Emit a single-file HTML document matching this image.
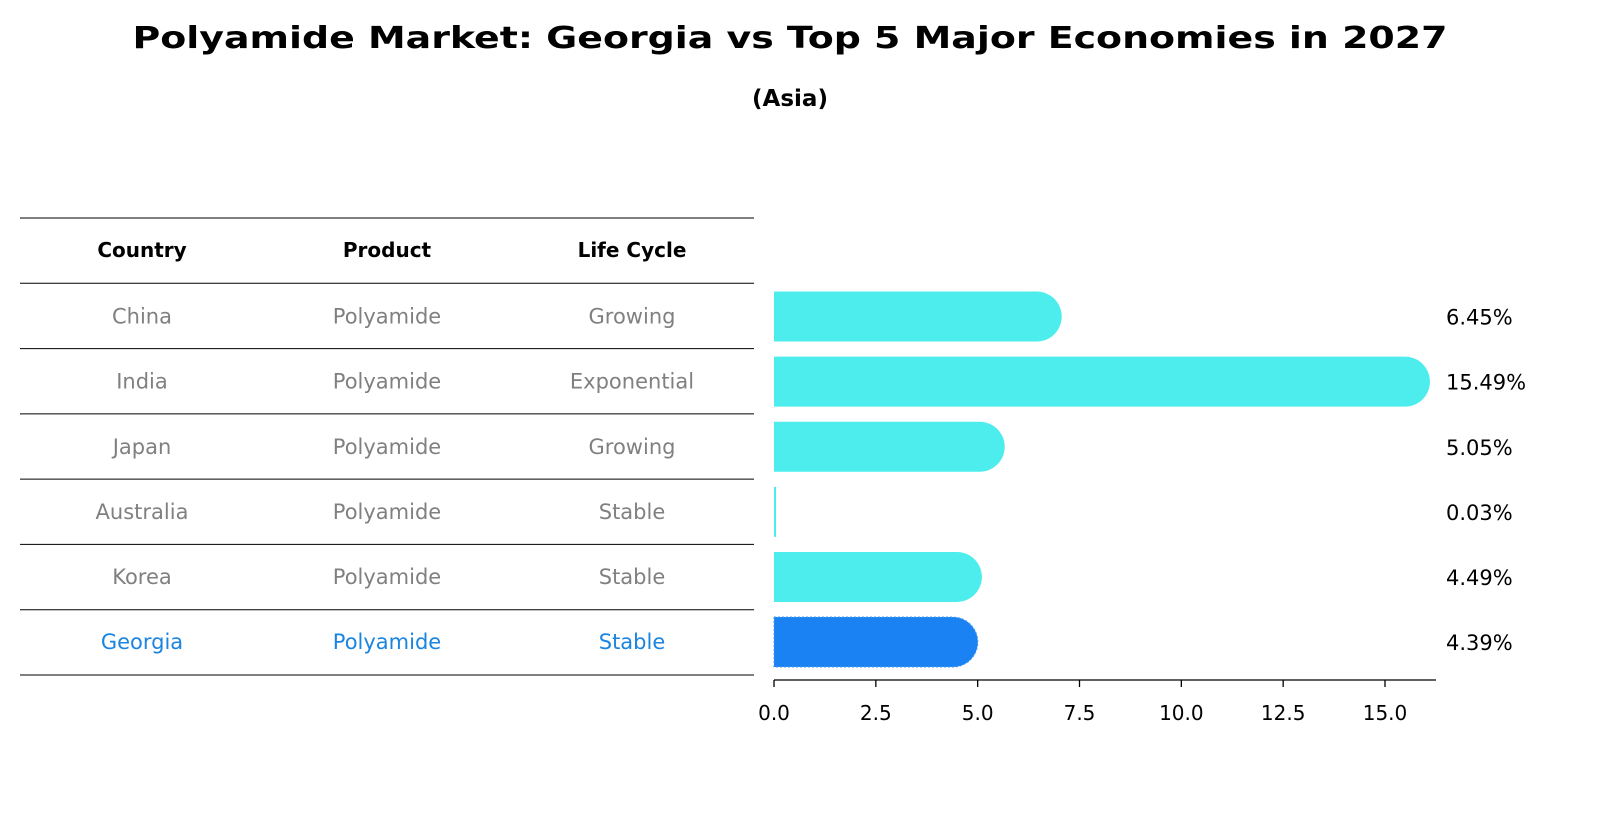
<!DOCTYPE html>
<html><head><meta charset="utf-8"><style>
body{margin:0;background:#fff;overflow:hidden;}
svg text{font-family:"DejaVu Sans","Liberation Sans",sans-serif;}
</style></head><body>
<svg width="1604" height="823" viewBox="0 0 1604 823" xmlns="http://www.w3.org/2000/svg" id="chart">
<text x="790" y="48" text-anchor="middle" font-size="30" font-weight="bold" fill="#000" textLength="1315" lengthAdjust="spacingAndGlyphs">Polyamide Market: Georgia vs Top 5 Major Economies in 2027</text>
<text x="790" y="106" text-anchor="middle" font-size="23" font-weight="bold" fill="#000">(Asia)</text>
<g id="table"></g>
<g id="bars"></g>
</svg>
<script>
const countries=["China","India","Japan","Australia","Korea","Georgia"];
const products=["Polyamide","Polyamide","Polyamide","Polyamide","Polyamide","Polyamide"];
const lifeCycles=["Growing","Exponential","Growing","Stable","Stable","Stable"];
const values=[6.45,15.49,5.05,0.03,4.49,4.39];
const tickLabels=["0.0","2.5","5.0","7.5","10.0","12.5","15.0"];
const tickValues=[0,2.5,5,7.5,10,12.5,15];
const NS="http://www.w3.org/2000/svg";
function mk(tag,attrs,parent,text){const e=document.createElementNS(NS,tag);for(const k in attrs)e.setAttribute(k,attrs[k]);if(text!==undefined)e.textContent=text;parent.appendChild(e);return e;}
const table=document.getElementById('table');
const bars=document.getElementById('bars');
const x0=774, pxPerUnit=(1385-774)/15;
const xs=v=>x0+v*pxPerUnit;
const rowTop=284,rowH=65.1;
const yc=i=>rowTop+rowH*(i+0.5);
const colX=[142,387,632];
for(let i=0;i<=countries.length+1;i++){
  const y=218+i*((675-218)/7);
  const l=mk('line',{x1:20,x2:754,y1:y,y2:y,stroke:'#000','stroke-width':1},table);
  
  
}
["Country","Product","Life Cycle"].forEach((h,j)=>{
  const t=mk('text',{x:colX[j],y:257,'text-anchor':'middle','font-size':20,'font-weight':'bold',fill:'#000'},table,h);
  
  
});
countries.forEach((c,i)=>{
  const col=c==="Georgia"?"#1a85e0":"#808080";
  [c,products[i],lifeCycles[i]].forEach((v,j)=>{
    const t=mk('text',{x:colX[j],y:yc(i)+7,'text-anchor':'middle','font-size':21,fill:col},table,v);
    
    
  });
});
const bh=50,r=25;
values.forEach((v,i)=>{
  const y=yc(i)-bh/2, xe=xs(v);
  const isG=countries[i]==="Georgia";
  const color=isG?"#1a82f2":"#4deded";
  let d;
  if(v>0.5){d=`M${x0},${y} H${xe} A${r},${r} 0 0 1 ${xe},${y+bh} H${x0} Z`;}
  else{d=`M${x0},${y} H${x0+2} V${y+bh} H${x0} Z`;}
  const attrs={d,fill:color};
  if(isG){attrs.stroke='#4a9cf5';attrs['stroke-width']=1;attrs['stroke-dasharray']='2,2';}
  const p=mk('path',attrs,bars);
  
  
  const t=mk('text',{x:1446,y:yc(i)+8,'font-size':21,fill:'#000'},bars,values[i].toFixed(2)+'%');
  
  
});
const ax=mk('line',{x1:x0,x2:1436,y1:680,y2:680,stroke:'#000','stroke-width':1.3},bars);


tickValues.forEach((tv,i)=>{
  const tk=mk('line',{x1:xs(tv),x2:xs(tv),y1:680,y2:687,stroke:'#000','stroke-width':1.3},bars);
  
  
  const t=mk('text',{x:xs(tv),y:720,'text-anchor':'middle','font-size':20,fill:'#000'},bars,tickLabels[i]);
  
  
});
</script>
</body></html>
